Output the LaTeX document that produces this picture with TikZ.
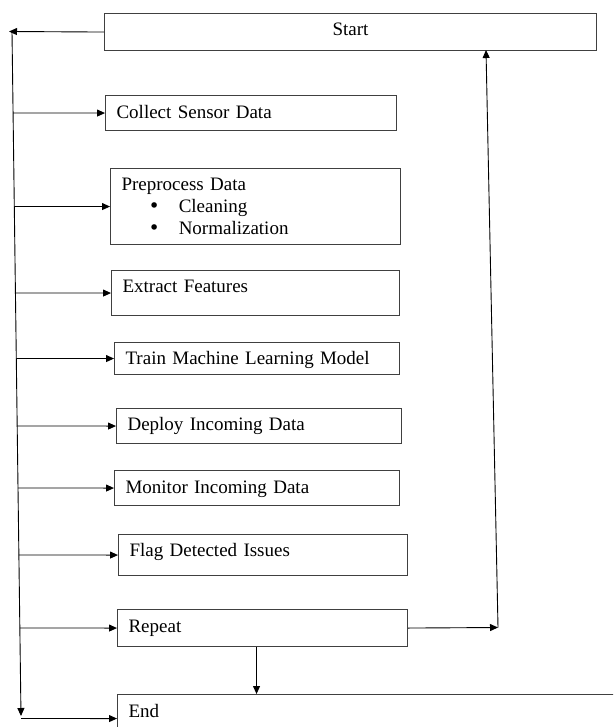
\documentclass[tikz,border=0pt]{standalone}
\usepackage{fontspec}
\setmainfont{Liberation Serif}
\newfontfamily\bulletfont{DejaVu Sans}
\usetikzlibrary{arrows.meta}

\begin{document}
\begin{tikzpicture}[x=1pt, y=-1pt, >={Triangle[length=8pt,width=7pt]}, line width=0.9pt]
  \tikzstyle{box}=[draw=black!75, line width=1.1pt, anchor=north west, inner xsep=11pt, inner ysep=0pt, align=left, font=\fontsize{19}{22}\selectfont]

  \useasboundingbox (0,0) rectangle (613,727);
  \clip (0,0) rectangle (613,727);
  \fill[white] (0,0) rectangle (613,727);

  \node[box, text width=470pt, align=center, text height=22pt, text depth=15pt] (start) at (104,13) {Start};
  \node[box, text width=269pt, text height=23pt, text depth=12pt] (collect) at (105,95) {Collect Sensor Data};
  \node[box, text width=268pt, text height=22pt, text depth=54pt] (prep) at (110,168)
    {Preprocess Data\\
     \hspace*{27pt}{\bulletfont •}\hspace{19pt}Cleaning\\
     \hspace*{27pt}{\bulletfont •}\hspace{19pt}Normalization};
  \node[box, text width=266pt, text height=22pt, text depth=23pt] (extract) at (111,270) {Extract Features};
  \node[box, text width=263pt, text height=22pt, text depth=10pt] (train) at (114,342) {Train Machine Learning Model};
  \node[box, text width=263pt, text height=22pt, text depth=13pt] (deploy) at (116,408) {Deploy Incoming Data};
  \node[box, text width=263pt, text height=23pt, text depth=12pt] (monitor) at (114,470) {Monitor Incoming Data};
  \node[box, text width=267pt, text height=22pt, text depth=19pt] (flag) at (118,534) {Flag Detected Issues};
  \node[box, text width=268pt, text height=23pt, text depth=14pt] (repeat) at (117,609) {Repeat};
  \node[box, text width=498pt, text height=23pt, text depth=25pt] (end) at (117,694) {End};

  \coordinate (starttip) at (9,31.5);
  \coordinate (spinetop) at (12,31.5);
  \coordinate (spinebot) at (21,716);
  \coordinate (loopcorner) at (498,627.5);
  \coordinate (looptop) at (486,50);

  \draw[->] (start.west) -- (starttip);
  \draw[->] (spinetop) -- (spinebot);
  \foreach \b in {collect,prep,extract,train,deploy,monitor,flag,repeat,end}
    \draw[->] (intersection of spinetop--spinebot and \b.west--\b.east) -- (\b.west);

  \draw[->] (repeat.east) -- (loopcorner);
  \draw[->] (loopcorner) -- (looptop);
  \draw[->] ([xshift=-6pt]repeat.south) -- ([xshift=-6pt]repeat.south |- end.north);
\end{tikzpicture}
\end{document}
